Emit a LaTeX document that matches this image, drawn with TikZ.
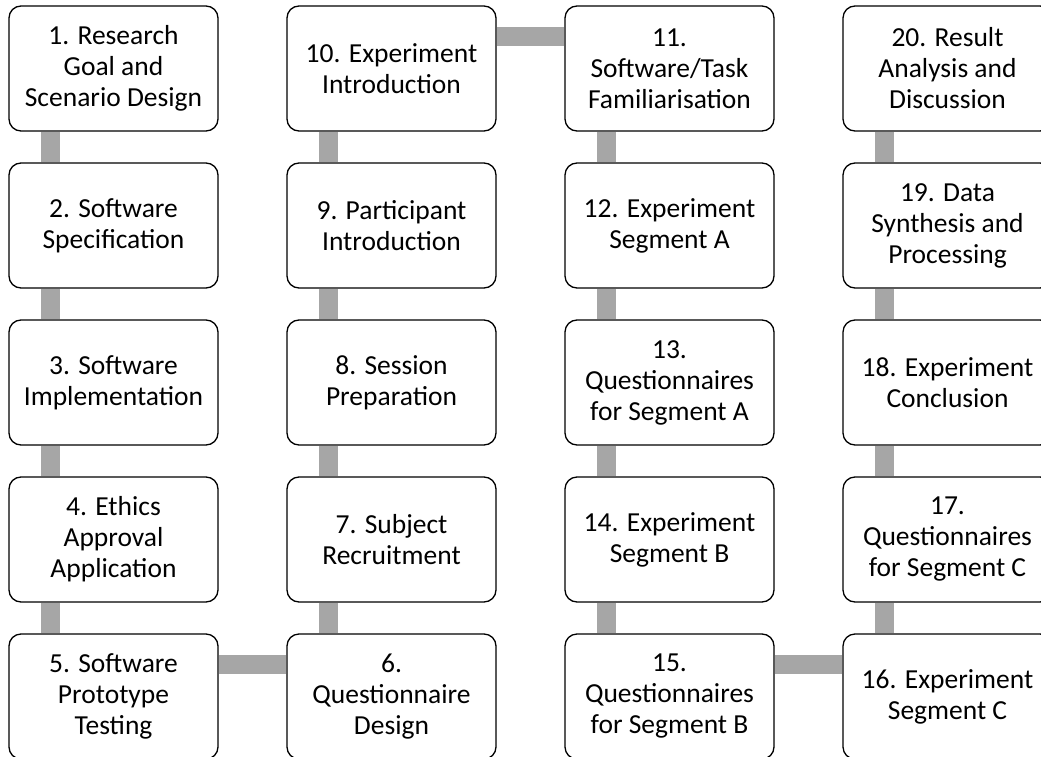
\documentclass[tikz,border=0pt]{standalone}
\usepackage{fontspec}
\setmainfont{Carlito}
\usetikzlibrary{positioning}
\definecolor{bargrey}{HTML}{A6A6A6}

\begin{document}
\begin{tikzpicture}[x=1pt, y=-1pt, node distance=30.7pt and 67.7pt,
	   box/.style={draw, line width=1.3pt, rounded corners=12pt, fill=white, align=center,
	     minimum width=209pt, minimum height=125pt, inner sep=1pt,
	     font=\fontsize{27.5}{31}\selectfont},
	   bar/.style={draw=bargrey, line width=19pt}]
	  \useasboundingbox (0,0) rectangle (1041,757);
	  \clip (0,0) rectangle (1041,757);
	  % column 1
	  \node[box] (s1) at (113.5,68.5) {1. Research\\Goal and\\Scenario Design};
	  \node[box, below=of s1] (s2) {2. Software\\Specification};
	  \node[box, below=of s2] (s3) {3. Software\\Implementation};
	  \node[box, below=of s3] (s4) {4. Ethics\\Approval\\Application};
	  \node[box, below=of s4] (s5) {5. Software\\Prototype\\Testing};
	  % column 2
	  \node[box, right=of s5] (s6) {6.\\Questionnaire\\Design};
	  \node[box, above=of s6] (s7) {7. Subject\\Recruitment};
	  \node[box, above=of s7] (s8) {8. Session\\Preparation};
	  \node[box, above=of s8] (s9) {9. Participant\\Introduction};
	  \node[box, above=of s9] (s10) {10. Experiment\\Introduction};
	  % column 3
	  \node[box, right=of s10] (s11) {11.\\Software/Task\\Familiarisation};
	  \node[box, below=of s11] (s12) {12. Experiment\\Segment A};
	  \node[box, below=of s12] (s13) {13.\\Questionnaires\\for Segment A};
	  \node[box, below=of s13] (s14) {14. Experiment\\Segment B};
	  \node[box, below=of s14] (s15) {15.\\Questionnaires\\for Segment B};
	  % column 4
	  \node[box, right=of s15] (s16) {16. Experiment\\Segment C};
	  \node[box, above=of s16] (s17) {17.\\Questionnaires\\for Segment C};
	  \node[box, above=of s17] (s18) {18. Experiment\\Conclusion};
	  \node[box, above=of s18] (s19) {19. Data\\Synthesis and\\Processing};
	  \node[box, above=of s19] (s20) {20. Result\\Analysis and\\Discussion};
	  % bars
	  \foreach \a/\b in {s1/s2,s2/s3,s3/s4,s4/s5,s7/s6,s8/s7,s9/s8,s10/s9,
	                     s11/s12,s12/s13,s13/s14,s14/s15,s17/s16,s18/s17,s19/s18,s20/s19}
	    \draw[bar] ([xshift=42pt,yshift=-0.65pt]\a.south west) -- ([xshift=42pt,yshift=0.65pt]\b.north west);
	  \foreach \a/\b in {s5/s6,s10/s11,s15/s16}
	    \draw[bar] ([xshift=0.65pt,yshift=-31pt]\a.north east) -- ([xshift=-0.65pt,yshift=-31pt]\b.north west);
	\end{tikzpicture}
\end{document}
